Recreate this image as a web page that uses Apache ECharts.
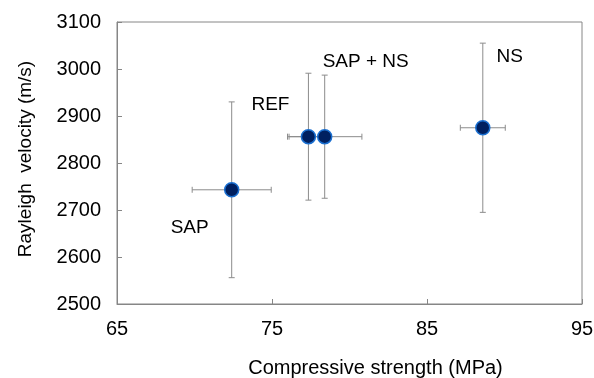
<!DOCTYPE html>
<html><head><meta charset="utf-8">
<script src="https://cdn.jsdelivr.net/npm/echarts@6/dist/echarts.min.js"></script>
<style>html,body{margin:0;padding:0;background:#fff}#c{width:594px;height:378px}</style>
</head><body><div id="c"></div>
<script>
var mixNames = ['SAP', 'REF', 'SAP + NS', 'NS'];
var strength = [72.4, 77.35, 78.4, 88.6];
var strengthErr = [2.55, 1.25, 2.4, 1.45];
var velocity = [2743, 2856, 2856, 2875];
var velocityErr = [187, 135, 131, 180];
var xTicks = [65, 75, 85, 95];
var yTicks = [2500, 2600, 2700, 2800, 2900, 3000, 3100];

var labelOffsets = [[-42, 38], [-38, -32], [41, -75], [27, -71]];

var chart = echarts.init(document.getElementById('c'));
var font = 'Liberation Sans, Arial, sans-serif';
var errData = strength.map(function (x, i) { return [x, velocity[i], strengthErr[i], velocityErr[i]]; });
var ptData = strength.map(function (x, i) {
  return {
    value: [x, velocity[i]],
    name: mixNames[i],
    label: { offset: labelOffsets[i] }
  };
});

chart.setOption({
  animation: false,
  grid: { left: 117, right: 12, top: 22, bottom: 74, outerBoundsMode: 'none', containLabel: false, show: true, borderColor: '#868686', borderWidth: 1 },
  xAxis: {
    type: 'value', min: xTicks[0], max: xTicks[xTicks.length - 1], interval: 10,
    name: 'Compressive strength (MPa)', nameLocation: 'middle', nameGap: 54,
    nameTextStyle: { fontFamily: font, fontSize: 20, color: '#000', padding: [0, 0, 0, 52] },
    axisLine: { lineStyle: { color: '#868686' } },
    axisTick: { inside: true, length: 5, lineStyle: { color: '#868686' } },
    axisLabel: { fontFamily: font, fontSize: 20, color: '#000', margin: 15 },
    splitLine: { show: false }
  },
  yAxis: {
    type: 'value', min: yTicks[0], max: yTicks[yTicks.length - 1], interval: 100,
    name: 'Rayleigh  velocity (m/s)', nameLocation: 'middle', nameGap: 82,
    nameTextStyle: { fontFamily: font, fontSize: 19, color: '#000', padding: [0, 0, 0, 8] },
    axisLine: { show: true, lineStyle: { color: '#868686' } },
    axisTick: { show: true, inside: true, length: 5, lineStyle: { color: '#868686' } },
    axisLabel: { fontFamily: font, fontSize: 20, color: '#000', margin: 16, formatter: function (v) { return String(v); } },
    splitLine: { show: false }
  },
  series: [
    {
      type: 'custom',
      data: errData,
      z: 1,
      renderItem: function (params, api) {
        var x = api.value(0), y = api.value(1), ex = api.value(2), ey = api.value(3);
        var c = api.coord([x, y]);
        var l = api.coord([x - ex, y]), r = api.coord([x + ex, y]);
        var t = api.coord([x, y + ey]), b = api.coord([x, y - ey]);
        var cap = 3;
        var st = { stroke: '#8c8c8c', lineWidth: 1 };
        return {
          type: 'group',
          children: [
            { type: 'line', shape: { x1: l[0], y1: c[1], x2: r[0], y2: c[1] }, style: st },
            { type: 'line', shape: { x1: l[0], y1: c[1] - cap, x2: l[0], y2: c[1] + cap }, style: st },
            { type: 'line', shape: { x1: r[0], y1: c[1] - cap, x2: r[0], y2: c[1] + cap }, style: st },
            { type: 'line', shape: { x1: c[0], y1: t[1], x2: c[0], y2: b[1] }, style: st },
            { type: 'line', shape: { x1: c[0] - cap, y1: t[1], x2: c[0] + cap, y2: t[1] }, style: st },
            { type: 'line', shape: { x1: c[0] - cap, y1: b[1], x2: c[0] + cap, y2: b[1] }, style: st }
          ]
        };
      }
    },
    {
      type: 'scatter',
      data: ptData,
      z: 3,
      symbolSize: 14,
      itemStyle: { color: '#002060', borderColor: '#1a6fd0', borderWidth: 1.5, opacity: 1 },
      label: {
        show: true, position: 'inside', formatter: '{b}',
        fontFamily: font, fontSize: 19, color: '#000'
      }
    }
  ]
});
</script></body></html>
